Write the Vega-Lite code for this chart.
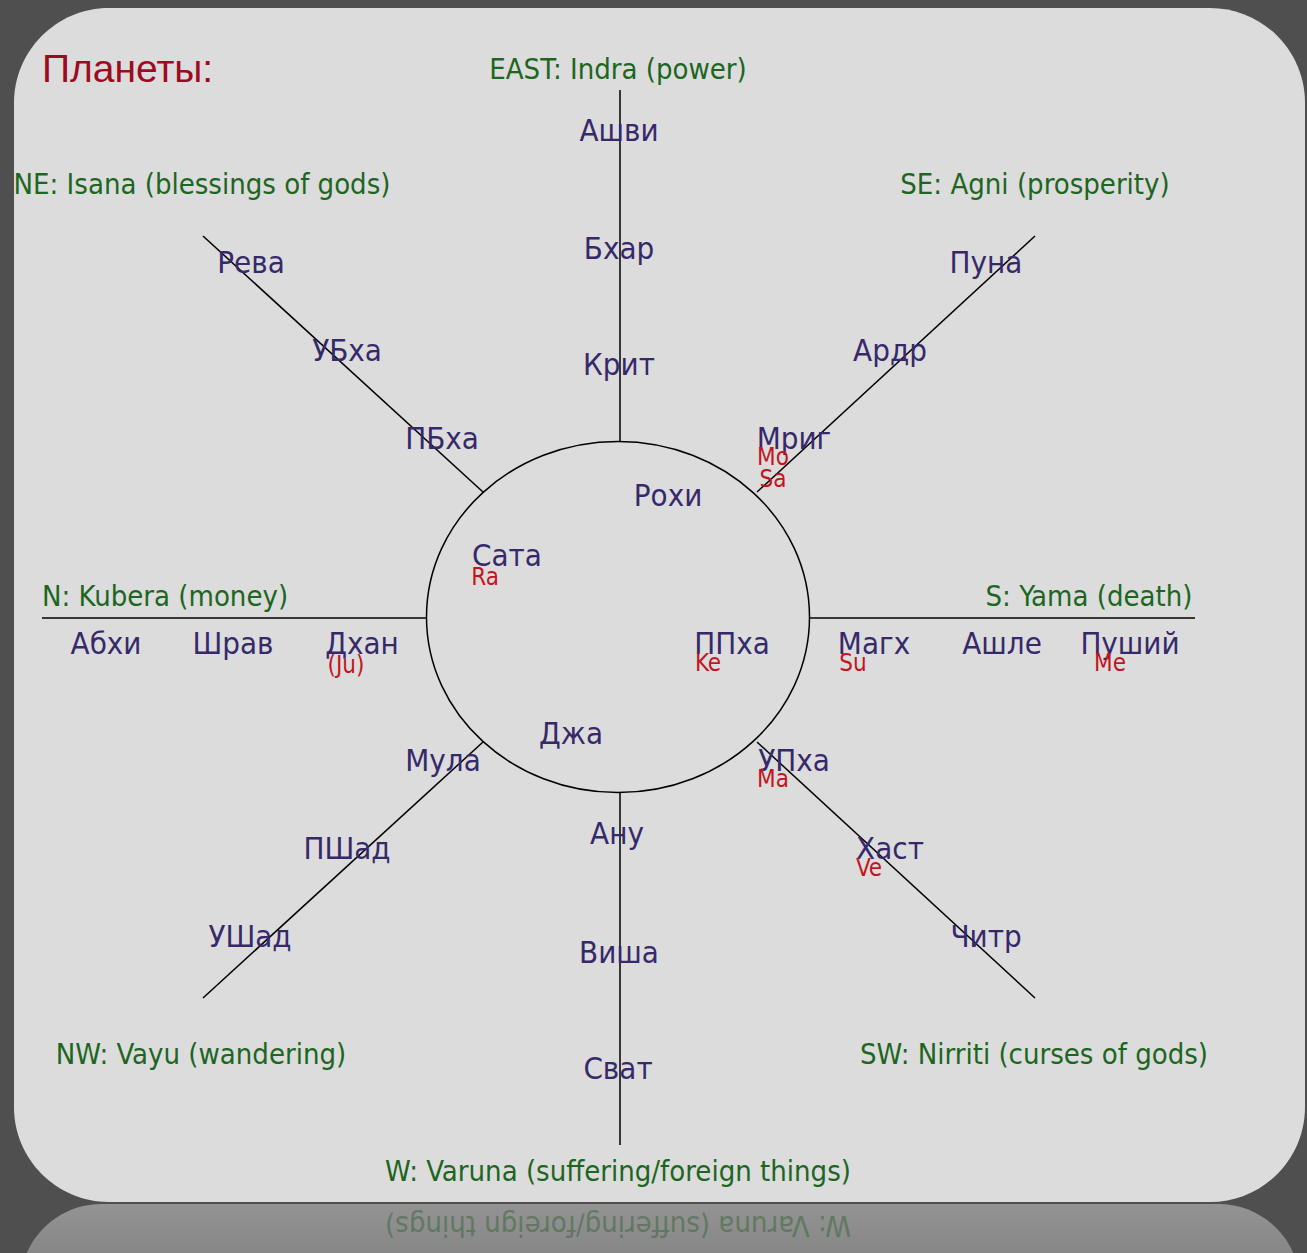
{
  "$schema": "https://vega.github.io/schema/vega-lite/v6.json",
  "width": 1307,
  "height": 1253,
  "padding": 0,
  "autosize": {"type": "none"},
  "background": "#4f4f4f",
  "config": {"view": {"stroke": null}},
  "datasets": {
    "lines": [
      {"x": 2, "y": 527, "x2": 2, "y2": 175},
      {"x": 2, "y": -176, "x2": 2, "y2": -528},
      {"x": -576, "y": -1, "x2": -191, "y2": -1},
      {"x": 192, "y": -1, "x2": 577, "y2": -1},
      {"x": -415, "y": 381, "x2": -135, "y2": 125},
      {"x": 417, "y": 381, "x2": 139, "y2": 125},
      {"x": -415, "y": -381, "x2": -135, "y2": -125},
      {"x": 139, "y": -125, "x2": 417, "y2": -381}
    ],
    "labels": [
      {"label": "Планеты:", "kind": "title", "x": -576, "y": 547},
      {"label": "EAST: Indra (power)", "kind": "direction", "x": 0, "y": 547},
      {"label": "NE: Isana (blessings of gods)", "kind": "direction", "x": -416, "y": 432},
      {"label": "SE: Agni (prosperity)", "kind": "direction", "x": 417, "y": 432},
      {"label": "N: Kubera (money)", "kind": "direction", "x": -453, "y": 20},
      {"label": "S: Yama (death)", "kind": "direction", "x": 471, "y": 20},
      {"label": "NW: Vayu (wandering)", "kind": "direction", "x": -417, "y": -438},
      {"label": "SW: Nirriti (curses of gods)", "kind": "direction", "x": 416, "y": -438},
      {"label": "W: Varuna (suffering/foreign things)", "kind": "direction", "x": 0, "y": -555},
      {"label": "Ашви", "kind": "nakshatra", "x": 1, "y": 485},
      {"label": "Бхар", "kind": "nakshatra", "x": 1, "y": 367},
      {"label": "Крит", "kind": "nakshatra", "x": 1, "y": 251},
      {"label": "Рохи", "kind": "nakshatra", "x": 50, "y": 120},
      {"label": "Рева", "kind": "nakshatra", "x": -367, "y": 353},
      {"label": "УБха", "kind": "nakshatra", "x": -271, "y": 265},
      {"label": "ПБха", "kind": "nakshatra", "x": -176, "y": 177},
      {"label": "Пуна", "kind": "nakshatra", "x": 368, "y": 353},
      {"label": "Ардр", "kind": "nakshatra", "x": 272, "y": 265},
      {"label": "Мриг", "kind": "nakshatra", "x": 176, "y": 177},
      {"label": "Сата", "kind": "nakshatra", "x": -111, "y": 60},
      {"label": "Абхи", "kind": "nakshatra", "x": -512, "y": -28},
      {"label": "Шрав", "kind": "nakshatra", "x": -385, "y": -28},
      {"label": "Дхан", "kind": "nakshatra", "x": -256, "y": -28},
      {"label": "ППха", "kind": "nakshatra", "x": 114, "y": -28},
      {"label": "Магх", "kind": "nakshatra", "x": 256, "y": -28},
      {"label": "Ашле", "kind": "nakshatra", "x": 384, "y": -28},
      {"label": "Пуший", "kind": "nakshatra", "x": 512, "y": -28},
      {"label": "Джа", "kind": "nakshatra", "x": -47, "y": -118},
      {"label": "Мула", "kind": "nakshatra", "x": -175, "y": -145},
      {"label": "УПха", "kind": "nakshatra", "x": 176, "y": -145},
      {"label": "Ану", "kind": "nakshatra", "x": -1, "y": -218},
      {"label": "ПШад", "kind": "nakshatra", "x": -271, "y": -233},
      {"label": "Хаст", "kind": "nakshatra", "x": 272, "y": -233},
      {"label": "УШад", "kind": "nakshatra", "x": -368, "y": -321},
      {"label": "Читр", "kind": "nakshatra", "x": 368, "y": -321},
      {"label": "Виша", "kind": "nakshatra", "x": 1, "y": -337},
      {"label": "Сват", "kind": "nakshatra", "x": 0, "y": -453},
      {"label": "Mo", "kind": "planet", "x": 155, "y": 159},
      {"label": "Sa", "kind": "planet", "x": 155, "y": 137},
      {"label": "Ra", "kind": "planet", "x": -133, "y": 39},
      {"label": "(Ju)", "kind": "planet", "x": -272, "y": -49},
      {"label": "Ke", "kind": "planet", "x": 90, "y": -47},
      {"label": "Su", "kind": "planet", "x": 235, "y": -47},
      {"label": "Me", "kind": "planet", "x": 492, "y": -47},
      {"label": "Ma", "kind": "planet", "x": 155, "y": -163},
      {"label": "Ve", "kind": "planet", "x": 251, "y": -252}
    ]
  },
  "layer": [
    {
      "data": {"values": [{}]},
      "mark": {"type": "rect", "cornerRadius": 100,
        "color": {"gradient": "linear", "x1": 0, "y1": 0, "x2": 0, "y2": 1,
          "stops": [{"offset": 0, "color": "#939393"}, {"offset": 1, "color": "#6a6a6a"}]}},
      "encoding": {
        "x": {"datum": -598, "type": "quantitative", "scale": {"domain": [-618, 689], "nice": false, "zero": false}, "axis": null},
        "x2": {"datum": 682},
        "y": {"datum": -587, "type": "quantitative", "scale": {"domain": [-636, 617], "nice": false, "zero": false}, "axis": null},
        "y2": {"datum": -750}
      }
    },
    {
      "data": {"values": [{}]},
      "mark": {"type": "rect", "cornerRadius": 95, "color": "#dcdcdc"},
      "encoding": {
        "x": {"datum": -604, "type": "quantitative"},
        "x2": {"datum": 687},
        "y": {"datum": 609, "type": "quantitative"},
        "y2": {"datum": -585}
      }
    },
    {
      "data": {"values": [{}]},
      "mark": {"type": "text", "text": "W: Varuna (suffering/foreign things)", "angle": 180,
        "font": "DejaVu Sans Condensed, sans-serif", "fontSize": 29,
        "color": "#2d5e2d", "opacity": 0.45, "baseline": "middle", "align": "center"},
      "encoding": {
        "x": {"datum": 0, "type": "quantitative"},
        "y": {"datum": -608, "type": "quantitative"}
      }
    },
    {
      "data": {"name": "lines"},
      "mark": {"type": "rule", "color": "#000000", "strokeWidth": 1.5},
      "encoding": {
        "x": {"field": "x", "type": "quantitative"},
        "y": {"field": "y", "type": "quantitative"},
        "x2": {"field": "x2"},
        "y2": {"field": "y2"}
      }
    },
    {
      "data": {"values": [{}]},
      "mark": {"type": "point", "filled": false, "opacity": 1, "stroke": "#000000", "strokeWidth": 1.5,
        "size": 146689,
        "shape": "M-1,0C-1,-0.506,-0.552,-0.917,0,-0.917C0.552,-0.917,1,-0.506,1,0C1,0.506,0.552,0.917,0,0.917C-0.552,0.917,-1,0.506,-1,0Z"},
      "encoding": {
        "x": {"datum": 0, "type": "quantitative"},
        "y": {"datum": 0, "type": "quantitative"}
      }
    },
    {
      "data": {"name": "labels"},
      "transform": [{"filter": "datum.kind === 'nakshatra'"}],
      "mark": {"type": "text", "font": "DejaVu Sans Condensed, sans-serif", "fontSize": 31,
        "color": "#36296a", "baseline": "middle", "align": "center"},
      "encoding": {
        "x": {"field": "x", "type": "quantitative"},
        "y": {"field": "y", "type": "quantitative"},
        "text": {"field": "label"}
      }
    },
    {
      "data": {"name": "labels"},
      "transform": [{"filter": "datum.kind === 'planet'"}],
      "mark": {"type": "text", "font": "DejaVu Sans Condensed, sans-serif", "fontSize": 24,
        "color": "#c4141e", "baseline": "middle", "align": "center"},
      "encoding": {
        "x": {"field": "x", "type": "quantitative"},
        "y": {"field": "y", "type": "quantitative"},
        "text": {"field": "label"}
      }
    },
    {
      "data": {"name": "labels"},
      "transform": [{"filter": "datum.kind === 'direction'"}],
      "mark": {"type": "text", "font": "DejaVu Sans Condensed, sans-serif", "fontSize": 29,
        "color": "#1d661f", "baseline": "middle", "align": "center"},
      "encoding": {
        "x": {"field": "x", "type": "quantitative"},
        "y": {"field": "y", "type": "quantitative"},
        "text": {"field": "label"}
      }
    },
    {
      "data": {"name": "labels"},
      "transform": [{"filter": "datum.kind === 'title'"}],
      "mark": {"type": "text", "font": "Liberation Sans, Arial, sans-serif", "fontSize": 39,
        "color": "#9c0b1f", "baseline": "middle", "align": "left"},
      "encoding": {
        "x": {"field": "x", "type": "quantitative"},
        "y": {"field": "y", "type": "quantitative"},
        "text": {"field": "label"}
      }
    }
  ]
}
